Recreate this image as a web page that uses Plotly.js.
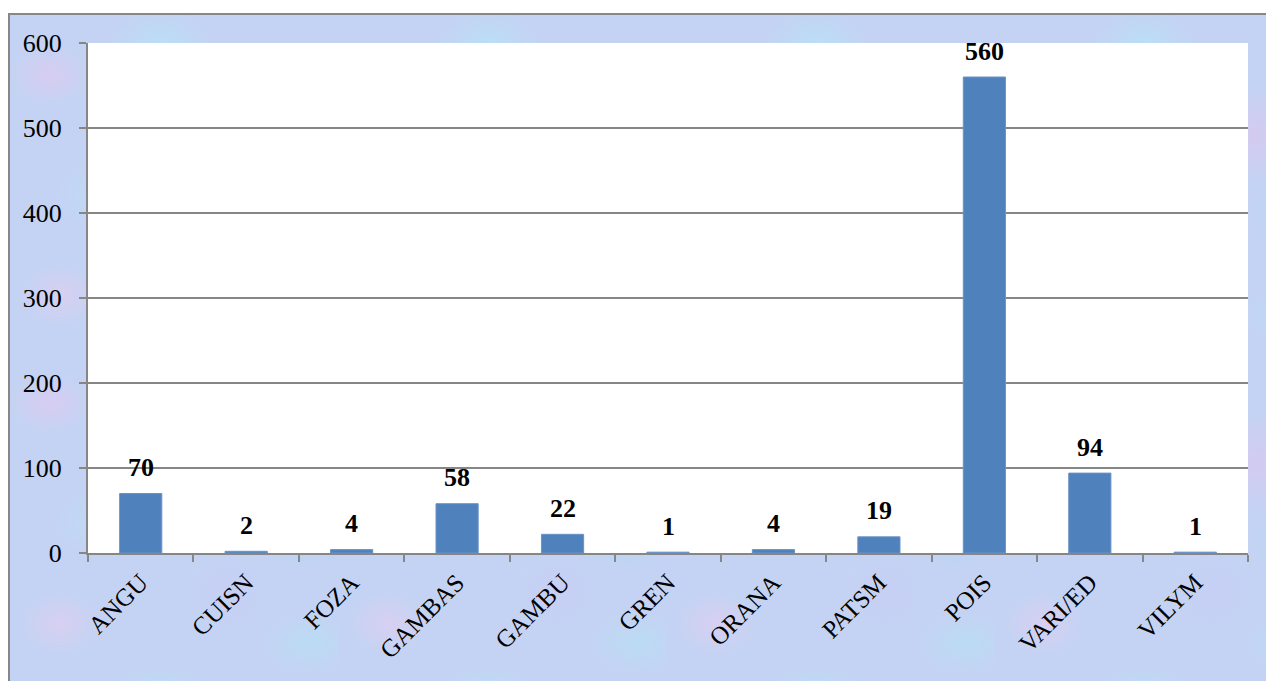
<!DOCTYPE html>
<html>
<head>
<meta charset="utf-8">
<script src="https://cdn.plot.ly/plotly-3.0.1.min.js"></script>
<style>
  html, body { margin: 0; padding: 0; width: 1266px; height: 681px; overflow: hidden; background: #ffffff; }
  #frame {
    position: absolute; left: 8px; top: 13px; width: 1300px; height: 720px;
    border: 2px solid #878787; box-sizing: border-box;
    background-color: #c4d3f3;
    background-image:
      radial-gradient(ellipse 40px 30px at 40px 60px, rgba(228,200,240,0.6), rgba(228,200,240,0) 100%),
      radial-gradient(ellipse 50px 35px at 150px 30px, rgba(180,230,248,0.6), rgba(180,230,248,0) 100%),
      radial-gradient(ellipse 35px 50px at 260px 120px, rgba(225,195,238,0.55), rgba(225,195,238,0) 100%),
      radial-gradient(ellipse 55px 35px at 100px 180px, rgba(185,228,250,0.55), rgba(185,228,250,0) 100%),
      radial-gradient(ellipse 45px 45px at 220px 250px, rgba(200,205,245,0.6), rgba(200,205,245,0) 100%),
      radial-gradient(ellipse 40px 32px at 50px 280px, rgba(232,205,240,0.55), rgba(232,205,240,0) 100%),
      radial-gradient(ellipse 50px 30px at 300px 300px, rgba(178,228,246,0.5), rgba(178,228,246,0) 100%),
      radial-gradient(ellipse 30px 25px at 190px 110px, rgba(235,210,242,0.5), rgba(235,210,242,0) 100%),
      radial-gradient(ellipse 35px 28px at 290px 200px, rgba(175,215,245,0.5), rgba(175,215,245,0) 100%);
    background-size: 328px 328px;
  }
  #chart { position: absolute; left: 0; top: 0; width: 1266px; height: 681px; }
</style>
</head>
<body>
<div id="frame"></div>
<div id="chart"></div>
<script>
const categories = ["ANGU", "CUISN", "FOZA", "GAMBAS", "GAMBU", "GREN", "ORANA", "PATSM", "POIS", "VARI/ED", "VILYM"];
const values = [70, 2, 4, 58, 22, 1, 4, 19, 560, 94, 1];
const yTicks = [0, 100, 200, 300, 400, 500, 600];

const serif = "'Liberation Serif', 'Times New Roman', serif";

const trace = {
  type: "bar",
  x: categories,
  y: values,
  marker: { color: "#4F81BD", line: { color: "#6c93c6", width: 1 } },
  width: 0.4,
  hoverinfo: "x+y"
};

const annotations = categories.map((c, i) => ({
  x: c, y: values[i], xref: "x", yref: "y",
  text: "<b>" + values[i] + "</b>",
  showarrow: false, yanchor: "middle", yshift: 26,
  font: { family: serif, size: 26, color: "#000000" }
}));

const layout = {
  width: 1266, height: 681,
  margin: { l: 88, r: 18, t: 43, b: 128, pad: 0 },
  paper_bgcolor: "rgba(0,0,0,0)",
  plot_bgcolor: "#ffffff",
  showlegend: false,
  bargap: 0.6,
  font: { family: serif, size: 26, color: "#000000" },
  xaxis: {
    type: "category",
    tickangle: -45,
    showline: true, linecolor: "#868686", linewidth: 2,
    ticks: "outside", tickson: "boundaries", ticklen: 7, tickcolor: "#868686", tickwidth: 2,
    ticklabelstandoff: 3,
    showgrid: false,
    tickfont: { family: serif, size: 25, color: "#000000" },
    fixedrange: true
  },
  yaxis: {
    range: [0, 600],
    tickvals: yTicks,
    ticktext: yTicks.map(String),
    showline: true, linecolor: "#868686", linewidth: 2,
    ticks: "outside", ticklen: 7, tickcolor: "#868686", tickwidth: 2,
    ticklabelstandoff: 12,
    showgrid: true, gridcolor: "#868686", gridwidth: 1.5,
    zeroline: false,
    tickfont: { family: serif, size: 26, color: "#000000" },
    fixedrange: true
  },
  annotations: annotations
};

Plotly.newPlot("chart", [trace], layout, { displayModeBar: false, staticPlot: true });
</script>
</body>
</html>
